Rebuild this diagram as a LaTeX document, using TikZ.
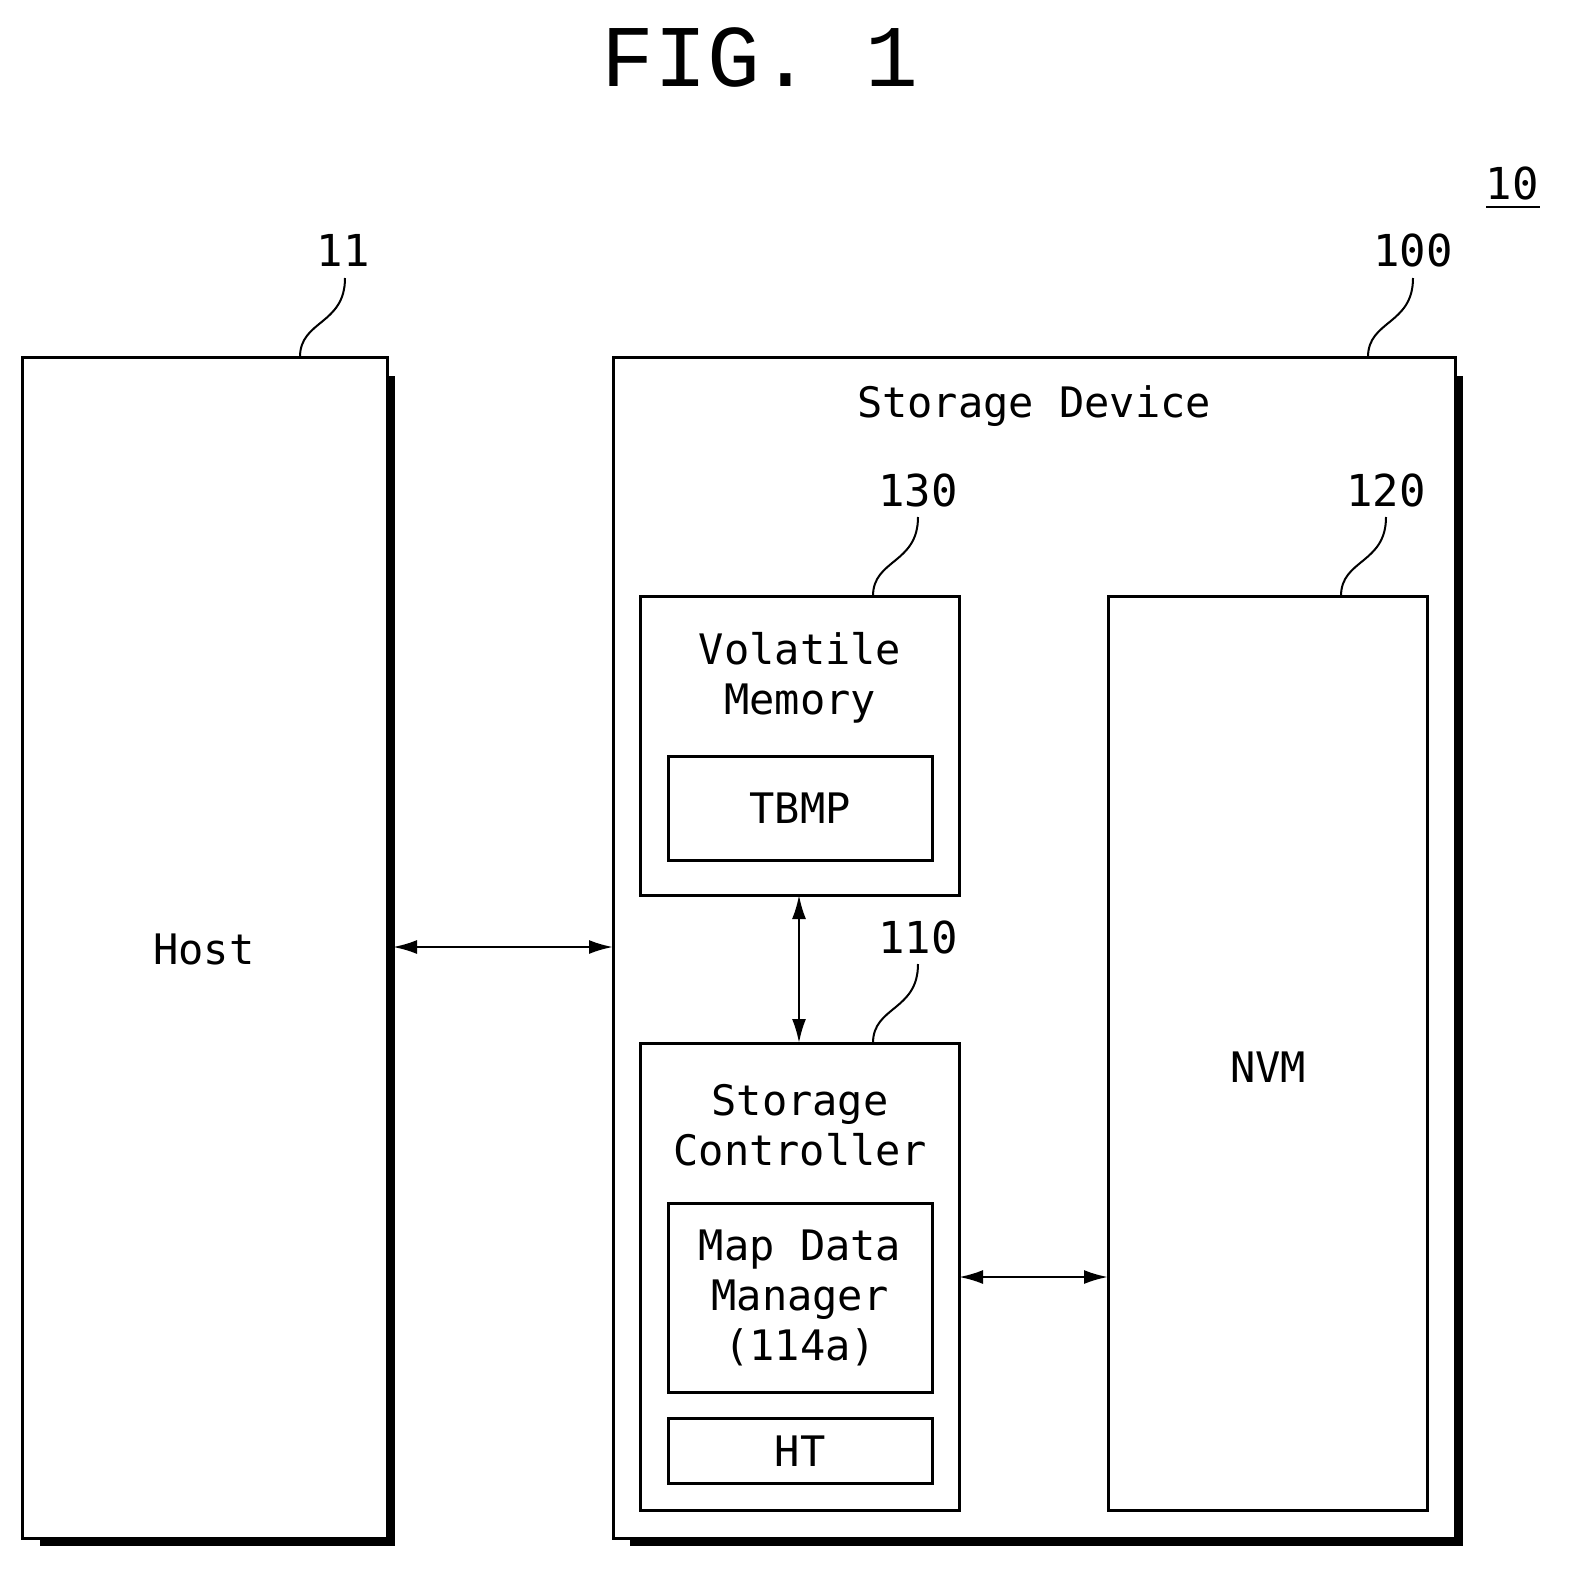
\documentclass[tikz,border=0pt]{standalone}
\usepackage{fontspec}
\setmainfont{DejaVu Sans Mono}
\newfontfamily\figfont{Liberation Mono}
\usetikzlibrary{arrows.meta}
\begin{document}
\begin{tikzpicture}[x=0.5pt,y=-0.5pt,
  box/.style={draw,line width=1.5pt},
  shad/.style={line width=3.5pt},
  lbl/.style={font=\fontsize{21}{25}\selectfont,align=center},
  num/.style={font=\fontsize{22}{26}\selectfont},
  lead/.style={line width=1pt},
  arr/.style={line width=1.2pt,{Latex[length=12pt,width=7pt]}-{Latex[length=12pt,width=7pt]}}]
\useasboundingbox (0,0) rectangle (1572,1579);
\node[font=\figfont\fontsize{44}{50}\selectfont] (fig) at (760,57) {FIG. 1};
\node[num] (n10) at (1512,183) {10};
\draw[lead] (1486,207) -- (1540,207);
% Host
\draw[box] (22,357) rectangle (387,1538);
\draw[shad] (391,376) -- (391,1542) -- (40,1542);
\node[lbl] (host) at (204,949) {Host};
\coordinate (hostE) at (393,947);
% Storage device
\draw[box] (613,357) rectangle (1455,1538);
\draw[shad] (1459,376) -- (1459,1542) -- (630,1542);
\node[lbl] (sd) at (1034,406) {Storage Device};
\coordinate (sdW) at (613,947);
% Volatile memory
\draw[box] (640,596) rectangle (959,895);
\node[lbl] (vm) at (800,678) {Volatile\\Memory};
\draw[box] (668,756) rectangle (932,860);
\node[lbl] (tbmp) at (800,808) {TBMP};
\coordinate (vmS) at (799,895);
% Storage controller
\draw[box] (640,1043) rectangle (959,1510);
\node[lbl] (sc) at (800,1125) {Storage\\Controller};
\draw[box] (668,1203) rectangle (932,1392);
\node[lbl] (mdm) at (800,1298) {Map Data\\Manager\\(114a)};
\draw[box] (668,1418) rectangle (932,1483);
\node[lbl] (ht) at (800,1451) {HT};
\coordinate (scN) at (799,1043);
\coordinate (scE) at (959,1277);
% NVM
\draw[box] (1108,596) rectangle (1427,1510);
\node[lbl] (nvm) at (1268,1067) {NVM};
\coordinate (nvmW) at (1108,1277);
% arrows
\draw[arr] (hostE) -- (sdW);
\draw[arr] (vmS) -- (scN);
\draw[arr] (scE) -- (nvmW);
% numbers and leaders
\node[num] (n11) at (343,250) {11};
\draw[lead] (300,357) .. controls (300,320) and (345,325) .. (345,278);
\node[num] (n100) at (1413,250) {100};
\draw[lead] (1368,357) .. controls (1368,320) and (1413,325) .. (1413,278);
\node[num] (n130) at (918,490) {130};
\draw[lead] (873,596) .. controls (873,559) and (918,564) .. (918,517);
\node[num] (n120) at (1386,490) {120};
\draw[lead] (1341,596) .. controls (1341,559) and (1386,564) .. (1386,517);
\node[num] (n110) at (918,937) {110};
\draw[lead] (873,1043) .. controls (873,1006) and (918,1011) .. (918,964);
\end{tikzpicture}
\end{document}
